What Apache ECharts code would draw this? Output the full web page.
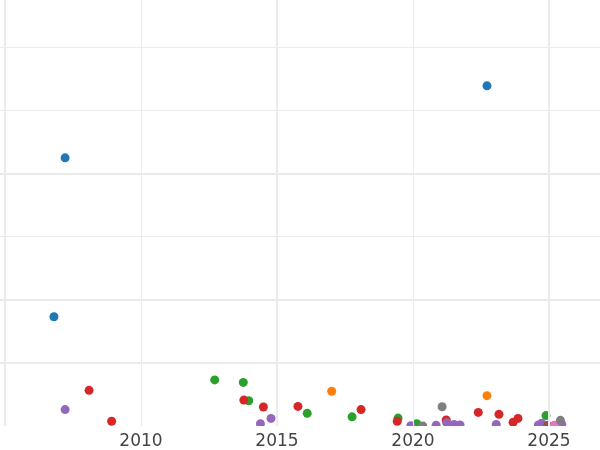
<!DOCTYPE html>
<html><head><meta charset="utf-8">
<script src="https://cdn.jsdelivr.net/npm/echarts@6/dist/echarts.min.js"></script>
<style>html,body{margin:0;padding:0;background:#fff}#c{width:600px;height:450px}</style>
</head><body><div id="c"></div>
<script>
// Tick labels
const xTickLabels = [2010, 2015, 2020, 2025];
const xGridMajor = [2005, 2015, 2025];
const xGridMinor = [2010, 2020];
const yGridMajor = [10, 20, 40];
const yGridMinor = [30, 50, 60];

// Series (x = year, y = value)
const seriesNames = ['A', 'B', 'C', 'D', 'E', 'F', 'G', 'H'];
const seriesColors = ['#1f77b4', '#ff7f0e', '#2ca02c', '#d62728', '#9467bd', '#8c564b', '#e377c2', '#7f7f7f'];
const blueData = [[2007.21, 42.45], [2006.80, 17.3], [2022.72, 53.85]];
const orangeData = [[2017.01, 5.5], [2022.72, 4.8]];
const greenData = [[2012.71, 7.3], [2013.76, 6.9], [2013.96, 4.0], [2016.11, 2.0], [2017.76, 1.45], [2019.45, 1.25], [2020.14, 0.35], [2024.89, 1.65]];
const redData = [[2008.09, 5.65], [2008.92, 0.75], [2013.78, 4.1], [2014.50, 3.0], [2015.77, 3.1], [2018.09, 2.6], [2019.42, 0.75], [2021.22, 0.95], [2022.40, 2.15], [2023.16, 1.85], [2023.68, 0.6], [2023.86, 1.2]];
const purpleData = [[2007.21, 2.6], [2014.39, 0.35], [2014.78, 1.2], [2019.92, 0.05], [2020.85, 0.1], [2021.24, 0.5], [2021.51, 0.25], [2021.73, 0.15], [2023.06, 0.25], [2024.61, 0.15], [2024.73, 0.45], [2025.47, 0.25]];
const brownData = [[2024.95, 0.1]];
const pinkData = [[2025.19, 0.1]];
const grayData = [[2021.07, 3.05], [2020.36, 0.0], [2025.42, 0.9]];
const allData = [blueData, orangeData, greenData, redData, purpleData, brownData, pinkData, grayData];

const gridColor = '#ebebeb';
const chart = echarts.init(document.getElementById('c'), null, {renderer: 'canvas'});

const gridLines = [];
xGridMajor.forEach(v => gridLines.push({xAxis: v, lineStyle: {width: 2, color: gridColor, type: 'solid'}}));
xGridMinor.forEach(v => gridLines.push({xAxis: v, lineStyle: {width: 1, color: gridColor, type: 'solid'}}));
yGridMajor.forEach(v => gridLines.push({yAxis: v, lineStyle: {width: 2, color: gridColor, type: 'solid'}}));
yGridMinor.forEach(v => gridLines.push({yAxis: v, lineStyle: {width: 1, color: gridColor, type: 'solid'}}));

const series = allData.map((d, i) => ({
  name: seriesNames[i],
  type: 'scatter',
  data: d,
  symbolSize: 9,
  itemStyle: {color: seriesColors[i], opacity: 1},
  clip: false,
  z: 3
}));
series.unshift({
  type: 'scatter', data: [], silent: true, z: 1,
  markLine: {silent: true, symbol: ['none', 'none'], label: {show: false}, animation: false, data: gridLines}
});

chart.setOption({
  animation: false,
  backgroundColor: '#fff',
  grid: {left: 0, right: 0, top: 0, bottom: 24, containLabel: false},
  xAxis: {
    type: 'value', min: 2004.816, max: 2026.875, z: 100,
    axisLine: {show: false}, axisTick: {show: false}, splitLine: {show: false},
    axisLabel: {customValues: xTickLabels, color: '#444', fontSize: 17, fontFamily: 'DejaVu Sans', margin: 7, formatter: v => String(v)}
  },
  yAxis: {
    type: 'value', min: 0, max: 67.44,
    axisLine: {show: false}, axisTick: {show: false}, axisLabel: {show: false}, splitLine: {show: false}
  },
  graphic: [{type: 'rect', shape: {x: 0, y: 426, width: 600, height: 24}, style: {fill: '#fff'}, z: 50}],
  series: series
});
</script></body></html>
